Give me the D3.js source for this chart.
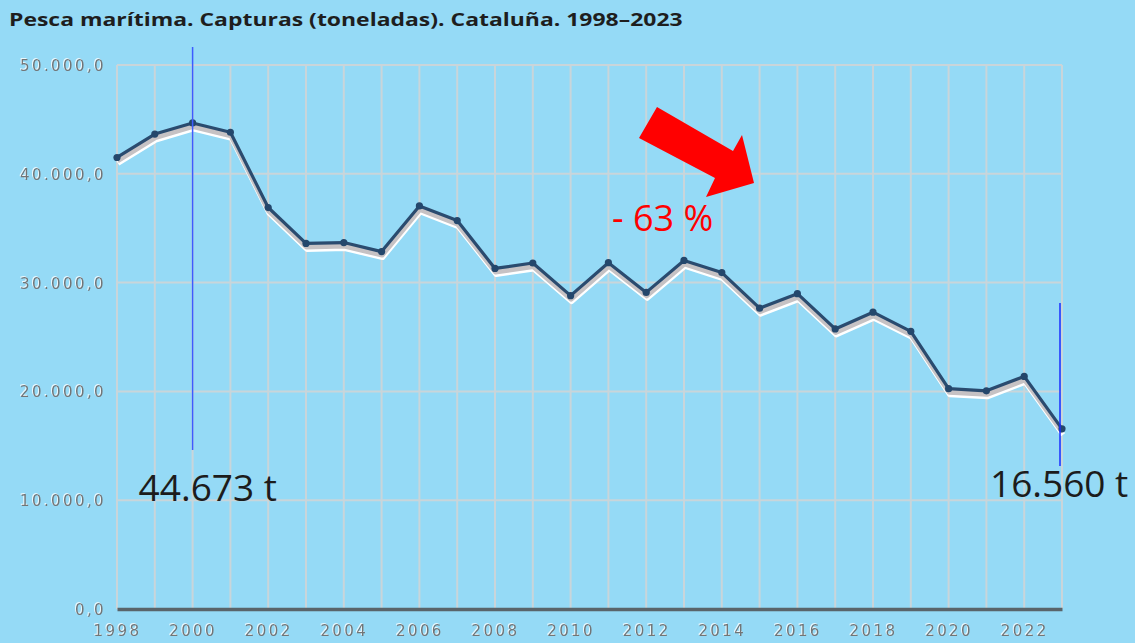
<!DOCTYPE html>
<html>
<head>
<meta charset="utf-8">
<script src="https://cdn.jsdelivr.net/npm/d3@7"></script>
<style>
  html, body { margin: 0; padding: 0; background: #95daf6; overflow: hidden; }
</style>
</head>
<body>
<svg id="chart" width="1135" height="643"></svg>
<script>
const years = d3.range(1998, 2024);
const capturas = [
  41500, 43650, 44673, 43820, 36900, 33600, 33680, 32850, 37050, 35700,
  31300, 31800, 28800, 31830, 29100, 32040, 30920, 27650, 28980, 25740,
  27280, 25520, 20250, 20050, 21380, 16560
];
const yTicks = [0, 10000, 20000, 30000, 40000, 50000];
const xTickYears = d3.range(1998, 2024, 2);
const title = 'Pesca marítima. Capturas (toneladas). Cataluña. 1998–2023';
const notes = [
  { year: 2000, label: '44.673 t' },
  { year: 2023, label: '16.560 t' }
];
const dropLabel = '- 63 %';

const width = 1135, height = 643;
const margin = { top: 65, right: 73, bottom: 34, left: 117 };

const svg = d3.select('#chart');

const x = d3.scaleLinear()
  .domain([1998, 2023])
  .range([margin.left, width - margin.right]);

const y = d3.scaleLinear()
  .domain([0, 50000])
  .range([height - margin.bottom, margin.top]);

const fmt = d3.formatLocale({ decimal: ',', thousands: '.', grouping: [3], currency: ['', ''] }).format(',.1f');

// soft white emboss for the axis labels
const defs = svg.append('defs');
const emb = defs.append('filter').attr('id', 'emboss');
emb.append('feOffset').attr('in', 'SourceAlpha').attr('dx', -1).attr('dy', -1).attr('result', 'off');
emb.append('feFlood').attr('flood-color', '#ffffff').attr('flood-opacity', 0.8);
emb.append('feComposite').attr('in2', 'off').attr('operator', 'in').attr('result', 'hl');
const mrg = emb.append('feMerge');
mrg.append('feMergeNode').attr('in', 'hl');
mrg.append('feMergeNode').attr('in', 'SourceGraphic');

// title (source image is stretched sideways)
svg.append('text')
  .attr('transform', 'translate(9, 26) scale(1.24, 1)')
  .style('font-family', 'Open Sans')
  .style('font-weight', 'bold')
  .style('font-size', '18.5px')
  .style('fill', '#1e1e1e')
  .text(title);

// grid
svg.append('g')
  .selectAll('line')
  .data(years)
  .join('line')
  .attr('x1', d => x(d)).attr('x2', d => x(d))
  .attr('y1', y(50000)).attr('y2', y(0))
  .style('stroke', '#c9d5da')
  .style('stroke-width', 2);

svg.append('g')
  .selectAll('line')
  .data(yTicks)
  .join('line')
  .attr('x1', x(1998)).attr('x2', x(2023))
  .attr('y1', d => y(d)).attr('y2', d => y(d))
  .style('stroke', '#c9d5da')
  .style('stroke-width', 2);

// y axis labels
const yLab = svg.append('g')
  .attr('transform', `translate(${margin.left - 11}, 0)`)
  .call(d3.axisLeft(y).tickValues(yTicks).tickSize(0).tickFormat(fmt))
  .call(g => g.select('.domain').remove());
yLab.selectAll('text')
  .attr('x', 0)
  .attr('dy', '0.36em')
  .attr('filter', 'url(#emboss)')
  .style('font-family', 'DejaVu Sans')
  .style('font-size', '15px')
  .style('letter-spacing', '2.4px')
  .style('fill', '#727476');

// x axis
const xAx = svg.append('g')
  .attr('transform', `translate(0, ${y(0)})`)
  .call(d3.axisBottom(x).tickValues(xTickYears).tickSize(0).tickFormat(d3.format('d')));
xAx.select('.domain')
  .style('stroke', '#59646a')
  .style('stroke-width', 3.5);
xAx.selectAll('text')
  .attr('y', 16)
  .attr('dy', '0.71em')
  .attr('filter', 'url(#emboss)')
  .style('font-family', 'DejaVu Sans')
  .style('font-size', '15px')
  .style('letter-spacing', '2.4px')
  .style('fill', '#727476');

// series
const line = d3.line()
  .x((d, i) => x(years[i]))
  .y(d => y(d));

svg.append('path')
  .datum(capturas)
  .attr('d', line)
  .attr('transform', 'translate(1, 6)')
  .style('fill', 'none')
  .style('stroke', '#ffffff')
  .style('stroke-width', 5)
  .style('stroke-linejoin', 'round');

svg.append('path')
  .datum(capturas)
  .attr('d', line)
  .attr('transform', 'translate(0.5, 3.5)')
  .style('fill', 'none')
  .style('stroke', '#c6c2c4')
  .style('stroke-width', 5)
  .style('stroke-linejoin', 'round');

svg.append('path')
  .datum(capturas)
  .attr('d', line)
  .style('fill', 'none')
  .style('stroke', '#2a4b6f')
  .style('stroke-width', 3.2)
  .style('stroke-linejoin', 'round');

svg.append('g')
  .selectAll('circle')
  .data(capturas)
  .join('circle')
  .attr('cx', (d, i) => x(years[i]))
  .attr('cy', d => y(d))
  .attr('r', 3.6)
  .style('fill', '#24476c');

// markers for first/last
svg.append('line')
  .attr('x1', x(2000)).attr('x2', x(2000))
  .attr('y1', 47).attr('y2', 450)
  .style('stroke', '#3d5cff')
  .style('stroke-width', 1.5);

svg.append('line')
  .attr('x1', x(2023) - 2).attr('x2', x(2023) - 2)
  .attr('y1', 303).attr('y2', 466)
  .style('stroke', '#1a2cff')
  .style('stroke-width', 1.5);

svg.append('text')
  .attr('x', x(notes[0].year) - 54)
  .attr('y', 501)
  .style('font-family', 'Open Sans')
  .style('font-size', '37px')
  .style('fill', '#1c1c1c')
  .text(notes[0].label);

svg.append('text')
  .attr('x', x(notes[1].year) - 72)
  .attr('y', 497)
  .style('font-family', 'Open Sans')
  .style('font-size', '37px')
  .style('fill', '#1c1c1c')
  .text(notes[1].label);

// red arrow + drop
svg.append('polygon')
  .attr('points', '657,107 733,151 742,135 754,183 706,197 715,178 639,138')
  .style('fill', '#ff0000');

svg.append('text')
  .attr('x', 612)
  .attr('y', 231)
  .style('font-family', 'Open Sans')
  .style('font-size', '36px')
  .style('fill', '#ff0000')
  .text(dropLabel);
</script>
</body>
</html>
